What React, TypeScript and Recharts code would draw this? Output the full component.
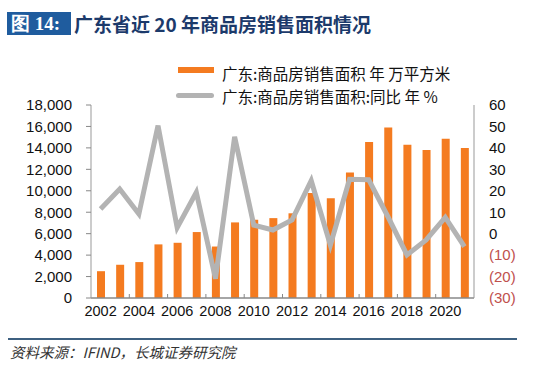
import React from 'react';
import { ComposedChart, Bar, Line, XAxis, YAxis } from 'recharts';

const years = ['2002','2003','2004','2005','2006','2007','2008','2009','2010','2011','2012','2013','2014','2015','2016','2017','2018','2019','2020','2021'];
const areaValues = [2500,3100,3350,5000,5150,6150,4800,7050,7300,7450,7900,9800,9300,11700,14550,15900,14300,13800,14850,14000];
const yoyValues = [11.5,20.8,9.2,50.4,2.8,19.3,-21,45.2,4,1.7,6.4,24.7,-5.3,25.4,25.2,8,-9.9,-2.9,7.6,-6];
const leftTicks = [0,2000,4000,6000,8000,10000,12000,14000,16000,18000];
const rightTicks = [-30,-20,-10,0,10,20,30,40,50,60];

const titleLabel = '图 14:';
const titleText = '广东省近 20 年商品房销售面积情况';
const legendBar = '广东:商品房销售面积 年 万平方米';
const legendLine = '广东:商品房销售面积:同比 年 %';
const sourceText = '资料来源：IFIND，长城证券研究院';

const data = years.map((y, i) => ({ year: y, area: areaValues[i], yoy: yoyValues[i] }));

const PLOT_LEFT = 91;
const PLOT_RIGHT = 474;
const BAND = (PLOT_RIGHT - PLOT_LEFT) / years.length;
const NUM_FONT = '"Liberation Sans", Arial, sans-serif';
const CJK_FONT = '"Noto Sans CJK SC", "Noto Sans", sans-serif';

const XTick = (props: any) => {
  const { x, y, payload } = props;
  const idx = payload.index;
  return (
    <g>
      {idx > 0 && (
        <line x1={x - BAND / 2} x2={x - BAND / 2} y1={y - 8} y2={y - 12} stroke="#888" strokeWidth={1} />
      )}
      <text x={x} y={y} dy="0.71em" textAnchor="middle" fontSize={14.5} fontFamily={NUM_FONT} fill="#111">
        {payload.value}
      </text>
    </g>
  );
};

const RightTick = (props: any) => {
  const { x, y, payload } = props;
  const v = payload.value;
  const neg = v < 0;
  return (
    <text x={x} y={y} dy="0.355em" textAnchor="start" fontSize={15} fontFamily={NUM_FONT} fill={neg ? '#c0504d' : '#111'}>
      {neg ? `(${Math.abs(v)})` : `${v}`}
    </text>
  );
};

export default function App() {
  return (
    <div style={{ position: 'absolute', left: 0, top: 0, width: 550, height: 370, background: '#fff', overflow: 'hidden' }}>
      {/* Title */}
      <div style={{ position: 'absolute', left: 7, top: 12, width: 64, height: 23, background: '#1f5c9e' }} />
      <div style={{ position: 'absolute', left: 11, top: 11, height: 25, lineHeight: '25px', color: '#fff', fontFamily: 'serif', fontWeight: 'bold', fontSize: 19 }}>
        {titleLabel}
      </div>
      <div style={{ position: 'absolute', left: 74, top: 10, height: 27, lineHeight: '27px', color: '#1c3a6b', fontFamily: CJK_FONT, fontWeight: 'bold', fontSize: 19, whiteSpace: 'nowrap' }}>
        {titleText}
      </div>

      {/* Legend */}
      <div style={{ position: 'absolute', left: 178, top: 67, width: 36, height: 6, background: '#f47b20' }} />
      <div style={{ position: 'absolute', left: 222, top: 62, lineHeight: '22px', fontFamily: CJK_FONT, fontSize: 15.5, color: '#111', whiteSpace: 'nowrap' }}>
        {legendBar}
      </div>
      <div style={{ position: 'absolute', left: 176, top: 93, width: 38, height: 5, borderRadius: 3, background: '#b3b3b3' }} />
      <div style={{ position: 'absolute', left: 222, top: 85, lineHeight: '22px', fontFamily: CJK_FONT, fontSize: 15.5, color: '#111', whiteSpace: 'nowrap' }}>
        {legendLine}
      </div>

      <div style={{ position: 'absolute', left: 0, top: 0 }}>
        <ComposedChart width={550} height={370} data={data} margin={{ top: 105, right: 0, left: 0, bottom: 42 }}>
          <XAxis
            dataKey="year"
            height={30}
            interval={1}
            tickLine={false}
            tickSize={0}
            tickMargin={8}
            axisLine={{ stroke: '#888', strokeWidth: 1.5 }}
            tick={<XTick />}
          />
          <YAxis
            yAxisId="left"
            orientation="left"
            width={91}
            domain={[0, 18000]}
            ticks={leftTicks}
            interval={0}
            tickSize={5}
            tickMargin={14}
            tickLine={{ stroke: '#888' }}
            axisLine={{ stroke: '#999' }}
            tickFormatter={(v: number) => v.toLocaleString('en-US')}
            tick={{ fontSize: 15, fontFamily: NUM_FONT, fill: '#111' }}
          />
          <YAxis
            yAxisId="right"
            orientation="right"
            width={76}
            domain={[-30, 60]}
            ticks={rightTicks}
            interval={0}
            tickSize={0}
            tickMargin={15}
            tickLine={false}
            axisLine={{ stroke: '#999' }}
            tick={<RightTick />}
          />
          <Bar yAxisId="left" dataKey="area" fill="#f47b20" barSize={8} isAnimationActive={false} />
          <Line yAxisId="right" dataKey="yoy" type="linear" stroke="#b3b3b3" strokeWidth={5} dot={false} isAnimationActive={false} />
        </ComposedChart>
      </div>

      {/* Source */}
      <div style={{ position: 'absolute', left: 8, top: 338, width: 509, height: 2, background: '#3d6080' }} />
      <div style={{ position: 'absolute', left: 10, top: 342, lineHeight: '20px', fontFamily: CJK_FONT, fontStyle: 'italic', fontSize: 14.5, color: '#333', whiteSpace: 'nowrap' }}>
        {sourceText}
      </div>
    </div>
  );
}
